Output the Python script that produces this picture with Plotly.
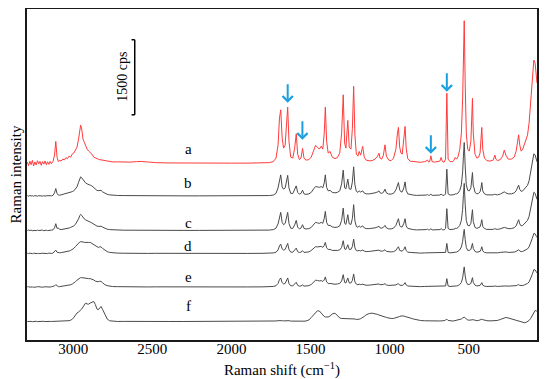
import plotly.graph_objects as go

# Raman shift grid (cm-1) shared by all spectra
shift = [
    3290, 3282, 3274, 3266, 3258, 3250, 3242, 3234, 3226, 3218,
    3210, 3202, 3194, 3186, 3178, 3170, 3162, 3154, 3146, 3138,
    3128, 3118, 3110, 3102, 3094, 3086, 3076, 3066, 3056, 3046,
    3036, 3026, 3016, 3006, 2996, 2986, 2976, 2966, 2958, 2953,
    2946, 2938, 2930, 2922, 2912, 2902, 2892, 2882, 2870, 2860,
    2850, 2842, 2832, 2824, 2814, 2800, 2785, 2770, 2750, 2720,
    2680, 2640, 2600, 2570, 2530, 2480, 2400, 2300, 2200, 2100,
    2000, 1900, 1800, 1760, 1735, 1718, 1705, 1696, 1688, 1679,
    1670, 1660, 1651, 1644, 1636, 1625, 1612, 1600, 1590, 1581,
    1570, 1560, 1550, 1541, 1528, 1510, 1495, 1480, 1468, 1456,
    1444, 1432, 1422, 1413, 1406, 1398, 1388, 1376, 1362, 1345,
    1330, 1315, 1303, 1293, 1284, 1276, 1264, 1255, 1244, 1235,
    1227, 1219, 1210, 1200, 1192, 1183, 1170, 1160, 1148, 1128,
    1110, 1092, 1075, 1067, 1060, 1050, 1039, 1029, 1020, 1005,
    990, 975, 960, 950, 944, 936, 928, 920, 910, 902,
    895, 885, 870, 850, 830, 805, 780, 768, 761, 753,
    746, 739, 731, 715, 700, 682, 674, 666, 655, 646,
    638, 630, 618, 600, 593, 585, 576, 566, 556, 546,
    538, 533, 528, 522, 515, 506, 496, 486, 480, 476,
    471, 466, 460, 448, 437, 428, 422, 417, 411, 400,
    385, 365, 345, 338, 334, 328, 318, 300, 285, 275,
    265, 250, 230, 212, 200, 190, 184, 177, 168, 158,
    148, 138, 128, 118, 108, 98, 88, 80, 72, 68,
]

# Intensities (cps) above each spectrum's own baseline
spec_a = [
    20, -50, 40, -30, 56, -56, 24, -36, 48, -16,
    36, -44, 30, -20, 44, -32, 28, -24, 36, -12,
    30, 160, 434, 120, 30, 60, 40, 80, 64, 110,
    90, 140, 120, 180, 200, 250, 320, 480, 660, 760,
    680, 480, 420, 340, 280, 240, 214, 180, 120, 100,
    90, 80, 70, 66, 50, 40, 36, 34, 24, 26,
    16, 20, 30, 34, 24, 10, 4, 0, 0, 0,
    0, 0, 4, 10, 30, 100, 360, 900, 1066, 500,
    300, 360, 800, 1120, 440, 120, 100, 300, 586, 180,
    70, 100, 294, 100, 60, 70, 120, 260, 354, 320,
    280, 340, 280, 600, 1120, 440, 200, 234, 120, 90,
    110, 200, 600, 1366, 400, 300, 854, 320, 280, 700,
    1534, 560, 180, 140, 234, 160, 334, 120, 60, 46,
    50, 80, 140, 200, 100, 80, 160, 366, 140, 60,
    50, 100, 280, 600, 714, 320, 200, 180, 440, 734,
    300, 90, 40, 30, 20, 16, 30, 40, 66, 20,
    36, 146, 30, 20, 30, 40, 114, 30, 20, 80,
    1400, 80, 30, 30, 60, 114, 80, 140, 280, 600,
    1300, 2200, 2846, 1600, 600, 280, 240, 440, 900, 1294,
    600, 440, 180, 100, 120, 200, 440, 714, 280, 100,
    50, 40, 60, 120, 160, 80, 50, 70, 140, 260,
    160, 80, 80, 120, 240, 440, 566, 360, 240, 280,
    360, 440, 560, 800, 1200, 1700, 2060, 2000, 1700, 1600,
]
spec_b = [
    6, -6, 8, -4, 4, -8, 6, 0, -6, 4,
    -2, 6, -4, 4, -6, 2, 6, -4, 4, 0,
    10, 60, 146, 50, 16, 12, 20, 26, 32, 40,
    48, 58, 70, 84, 100, 130, 180, 270, 350, 380,
    360, 320, 290, 260, 240, 220, 214, 200, 160, 130,
    110, 104, 114, 110, 80, 50, 30, 20, 12, 8,
    6, 4, 6, 6, 2, 4, 2, 0, 0, 0,
    0, 0, 2, 6, 16, 50, 160, 340, 420, 180,
    134, 160, 300, 410, 160, 50, 46, 120, 200, 70,
    34, 50, 114, 40, 30, 40, 70, 140, 186, 180,
    170, 186, 160, 260, 420, 170, 100, 110, 70, 60,
    70, 100, 240, 514, 160, 140, 334, 140, 130, 280,
    580, 220, 90, 70, 100, 76, 100, 56, 40, 40,
    46, 60, 80, 100, 60, 50, 70, 134, 60, 36,
    36, 50, 120, 220, 266, 120, 80, 80, 160, 280,
    110, 40, 26, 16, 10, 10, 14, 16, 26, 10,
    14, 34, 10, 10, 14, 16, 34, 14, 10, 40,
    534, 40, 16, 16, 24, 40, 40, 60, 110, 220,
    480, 800, 1066, 600, 220, 110, 100, 160, 320, 466,
    200, 160, 70, 40, 50, 80, 160, 266, 100, 40,
    20, 16, 20, 30, 34, 24, 20, 36, 60, 80,
    60, 40, 40, 60, 100, 170, 214, 130, 90, 100,
    130, 160, 210, 300, 460, 660, 840, 820, 720, 680,
]
spec_c = [
    0, 8, -4, 6, -6, 4, 0, -6, 6, -2,
    4, -4, 6, -6, 2, 4, -4, 4, 0, 6,
    10, 50, 134, 40, 50, 20, 16, 20, 24, 32,
    40, 48, 60, 72, 90, 120, 170, 230, 296, 320,
    300, 260, 230, 210, 190, 176, 166, 150, 120, 100,
    86, 80, 86, 84, 66, 40, 24, 16, 10, 6,
    4, 4, 2, 6, 2, 4, 0, 0, 0, 0,
    0, 0, 2, 6, 16, 44, 130, 290, 360, 160,
    114, 140, 260, 360, 140, 44, 40, 110, 200, 66,
    30, 46, 114, 40, 28, 36, 60, 120, 160, 150,
    140, 160, 140, 240, 380, 160, 100, 100, 70, 60,
    66, 90, 200, 446, 140, 120, 314, 130, 120, 240,
    514, 190, 80, 60, 90, 64, 90, 50, 36, 36,
    40, 50, 70, 84, 50, 44, 60, 100, 50, 30,
    30, 46, 100, 190, 234, 100, 70, 70, 140, 234,
    90, 40, 24, 16, 10, 8, 12, 16, 26, 10,
    14, 34, 10, 10, 14, 16, 34, 14, 10, 40,
    434, 40, 16, 16, 24, 40, 40, 60, 100, 200,
    420, 720, 940, 520, 200, 100, 90, 140, 280, 414,
    180, 140, 60, 40, 50, 70, 140, 214, 80, 36,
    20, 16, 20, 30, 40, 24, 20, 32, 50, 60,
    50, 36, 36, 54, 90, 170, 214, 130, 90, 100,
    130, 160, 200, 280, 420, 600, 760, 740, 660, 620,
]
spec_d = [
    4, -4, 6, 0, -6, 4, -2, 6, -4, 2,
    -6, 4, 0, 4, -4, 2, -2, 6, -4, 0,
    6, 30, 66, 24, 10, 12, 16, 20, 24, 30,
    38, 48, 60, 76, 100, 136, 176, 210, 230, 234,
    236, 230, 220, 216, 216, 220, 220, 200, 170, 140,
    120, 120, 132, 130, 100, 60, 36, 20, 10, 6,
    4, 0, 4, 4, 0, 2, 0, 0, 0, 0,
    0, 0, 2, 4, 10, 24, 70, 150, 186, 90,
    66, 80, 140, 200, 80, 26, 24, 60, 106, 36,
    18, 26, 54, 20, 18, 30, 60, 100, 134, 130,
    130, 140, 120, 160, 220, 110, 80, 80, 60, 54,
    60, 70, 120, 254, 90, 80, 174, 80, 80, 140,
    286, 110, 56, 50, 60, 50, 66, 46, 36, 40,
    46, 50, 60, 66, 50, 44, 54, 74, 40, 30,
    30, 36, 60, 110, 134, 60, 44, 44, 80, 134,
    56, 26, 20, 12, 10, 6, 10, 10, 16, 6,
    10, 20, 6, 6, 10, 10, 20, 10, 6, 20,
    200, 20, 10, 10, 16, 24, 26, 40, 70, 130,
    240, 380, 480, 280, 120, 60, 60, 80, 140, 200,
    100, 80, 40, 24, 30, 40, 80, 134, 50, 20,
    12, 10, 12, 18, 20, 14, 12, 20, 30, 34,
    30, 20, 20, 26, 40, 60, 74, 50, 36, 40,
    54, 66, 90, 130, 200, 300, 400, 390, 340, 320,
]
spec_e = [
    0, 6, -4, 4, 0, -6, 4, -2, 6, -4,
    2, -4, 4, -2, 4, 0, -4, 2, -2, 4,
    6, 20, 46, 16, 6, 6, 10, 12, 16, 20,
    24, 32, 44, 58, 76, 104, 136, 166, 180, 186,
    186, 180, 176, 170, 166, 166, 166, 160, 140, 116,
    100, 104, 114, 110, 84, 46, 26, 16, 8, 6,
    2, 4, 0, 2, 0, 2, 0, 0, 0, 0,
    0, 0, 2, 4, 10, 24, 70, 146, 180, 86,
    60, 70, 130, 180, 70, 24, 20, 50, 94, 32,
    16, 20, 40, 16, 16, 26, 50, 100, 134, 130,
    120, 126, 110, 140, 200, 100, 70, 70, 60, 54,
    60, 70, 120, 246, 90, 80, 180, 80, 80, 130,
    260, 100, 56, 44, 56, 46, 54, 40, 34, 36,
    40, 46, 54, 60, 44, 40, 50, 66, 40, 30,
    30, 30, 40, 60, 66, 36, 30, 30, 50, 86,
    40, 20, 16, 10, 8, 6, 10, 10, 16, 6,
    10, 20, 6, 6, 10, 10, 20, 10, 6, 20,
    166, 20, 10, 10, 16, 20, 20, 30, 50, 90,
    180, 300, 400, 220, 100, 50, 50, 70, 120, 186,
    90, 70, 36, 20, 24, 30, 60, 86, 36, 16,
    10, 8, 8, 14, 20, 12, 10, 14, 20, 24,
    20, 16, 16, 20, 26, 40, 46, 32, 24, 28,
    40, 50, 70, 100, 160, 250, 346, 340, 300, 280,
]
spec_f = [
    0, 4, -2, 2, -4, 2, 0, 4, -2, 2,
    -4, 2, 0, 4, -2, 2, 0, -4, 2, 0,
    2, 0, 4, 0, 2, -2, 2, 0, 4, 6,
    10, 16, 26, 44, 80, 134, 170, 190, 210, 234,
    250, 290, 340, 366, 350, 346, 370, 390, 400, 340,
    250, 234, 280, 300, 240, 134, 50, 14, 4, 0,
    2, 0, 0, 2, 0, 0, 0, 0, 0, 0,
    0, 0, 0, 2, 6, 10, 16, 20, 26, 16,
    12, 14, 20, 26, 16, 8, 6, 8, 10, 6,
    4, 6, 8, 6, 10, 30, 80, 140, 190, 214,
    210, 170, 120, 100, 90, 84, 90, 110, 150, 166,
    120, 70, 60, 60, 50, 50, 60, 50, 46, 50,
    60, 50, 40, 40, 46, 56, 76, 100, 134, 160,
    166, 160, 140, 130, 120, 110, 100, 90, 80, 66,
    60, 60, 70, 80, 90, 100, 110, 114, 110, 100,
    90, 80, 70, 50, 30, 20, 14, 12, 12, 10,
    10, 10, 10, 8, 8, 10, 12, 12, 16, 30,
    46, 20, 10, 10, 12, 16, 20, 26, 36, 50,
    70, 80, 86, 70, 50, 30, 26, 30, 40, 46,
    36, 30, 20, 16, 20, 30, 40, 46, 36, 24,
    16, 12, 12, 14, 16, 16, 20, 40, 60, 70,
    80, 70, 50, 30, 20, 10, 6, 0, -10, -20,
    -24, -20, -6, 20, 60, 120, 200, 220, 210, 200,
]

labels = ["a", "b", "c", "d", "e", "f"]
spectra = [spec_a, spec_b, spec_c, spec_d, spec_e, spec_f]
offsets = [3534, 2880, 2190, 1730, 1060, 370]          # stacking baselines (cps)
label_y = [3820, 3140, 2346, 1886, 1254, 680]          # label heights (cps)
label_x = 2272
colors = ["#ff3b3b", "#4a4a4a", "#4a4a4a", "#4a4a4a", "#4a4a4a", "#4a4a4a"]

# marked bands (cm-1) and arrow tip heights (cps)
arrow_x = [1644, 1551, 739, 638]
arrow_y = [4740, 4000, 3720, 4960]

# scale bar
bar_x = 2611
bar_lo, bar_hi = 4500, 6000
bar_text = "1500 cps"

FONT = "Liberation Serif, Times New Roman, serif"

fig = go.Figure()
for lab, sp, off, col in zip(labels, spectra, offsets, colors):
    fig.add_trace(go.Scatter(
        x=shift, y=[v + off for v in sp], mode="lines",
        line=dict(color=col, width=1), name=lab, showlegend=False,
        hoverinfo="skip"))

annotations = []
for lab, ly in zip(labels, label_y):
    annotations.append(dict(x=label_x, y=ly, text=lab, showarrow=False,
                            font=dict(family=FONT, size=15, color="black"),
                            xanchor="center", yanchor="middle"))
for axx, ayy in zip(arrow_x, arrow_y):
    annotations.append(dict(x=axx, y=ayy, ax=0, ay=-20, text="", showarrow=True,
                            arrowhead=4, arrowsize=1.0, arrowwidth=2,
                            arrowcolor="#1a9fe0", standoff=0))
annotations.append(dict(x=2688, y=(bar_lo + bar_hi) / 2, text=bar_text,
                        textangle=-90, showarrow=False,
                        font=dict(family=FONT, size=14, color="black"),
                        xanchor="center", yanchor="middle"))

shapes = [
    dict(type="line", x0=bar_x, x1=bar_x, y0=bar_lo, y1=bar_hi,
         line=dict(color="black", width=1.5)),
    dict(type="line", x0=bar_x, x1=bar_x + 20, y0=bar_hi, y1=bar_hi,
         line=dict(color="black", width=1.5)),
    dict(type="line", x0=bar_x, x1=bar_x + 20, y0=bar_lo, y1=bar_lo,
         line=dict(color="black", width=1.5)),
]

# the page adds an 8 px body margin, so the figure is sized/offset to compensate
fig.update_layout(
    width=542, height=371,
    margin=dict(l=19, r=13, t=1, b=39),
    paper_bgcolor="white", plot_bgcolor="white",
    annotations=annotations, shapes=shapes,
    font=dict(family=FONT, size=14, color="black"),
    xaxis=dict(
        range=[3292, 68], tickmode="array",
        tickvals=[3000, 2500, 2000, 1500, 1000, 500],
        ticktext=["3000", "2500", "2000", "1500", "1000", "500"],
        ticks="", showgrid=False, zeroline=False, automargin=False,
        ticklabelstandoff=-6,
        showline=True, mirror=True, linecolor="#1a1a1a", linewidth=1.5,
        tickfont=dict(family=FONT, size=15, color="black"),
        title=dict(text="Raman shift (cm<sup>−1</sup>)", standoff=10,
                   font=dict(family=FONT, size=15, color="black")),
    ),
    yaxis=dict(
        range=[0, 6614], showticklabels=False, ticks="", automargin=False,
        showgrid=False, zeroline=False,
        showline=True, mirror=True, linecolor="#1a1a1a", linewidth=1.5,
        title=dict(text="Raman intensity", standoff=0,
                   font=dict(family=FONT, size=15, color="black")),
    ),
)

fig.write_html("out.html")
